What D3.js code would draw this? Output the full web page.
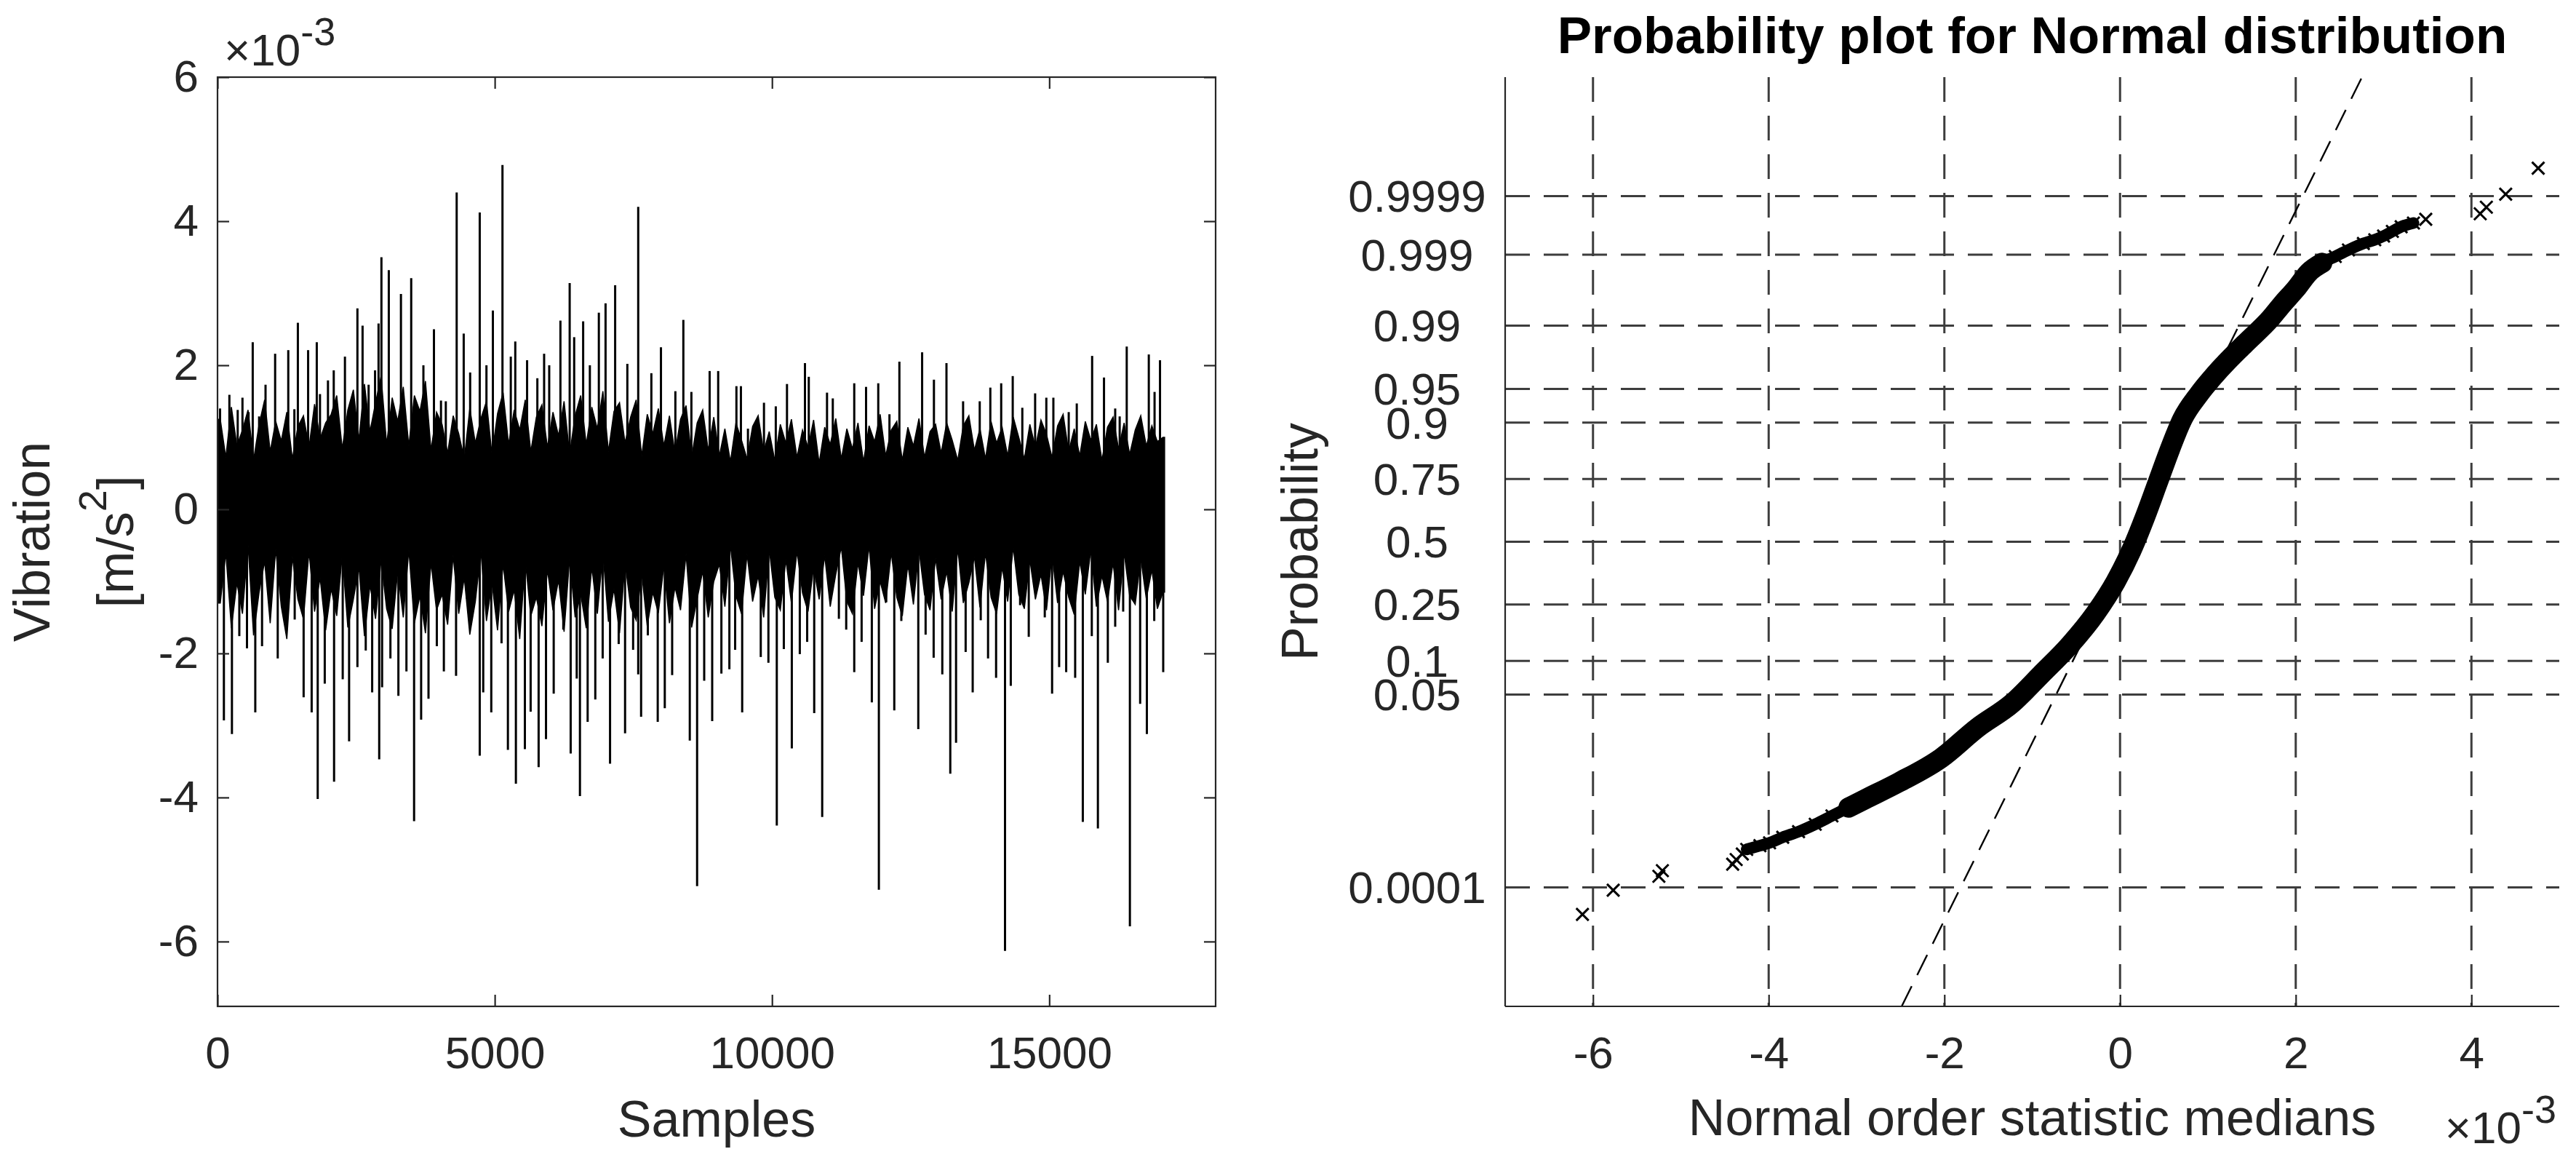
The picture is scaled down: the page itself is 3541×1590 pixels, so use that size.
<!DOCTYPE html>
<html>
<head>
<meta charset="utf-8">
<style>
    body { margin: 0; background: #fff; }
    svg { display: block; }
    text { font-family: "Liberation Sans", Arial, Helvetica, sans-serif; }
</style>
</head>
<body>
<svg id="chart" width="3541" height="1590"></svg>
<script src="https://d3js.org/d3.v7.min.js"></script>
<script>

// ---------- left panel: vibration signal (values in 1e-3 m/s^2) ----------
let nSamples = 17080
let binSize = 100

// ragged max / min of the dense trace in each 100-sample bin
let binHi = [
    1.25, 0.72, 1.42, 0.88, 1.10, 1.38, 0.68, 1.18, 1.52, 0.80, 1.22, 0.95, 1.35, 0.70, 1.15, 1.30, 0.86, 1.46, 0.98, 1.20,
    1.32, 1.58, 0.84, 1.38, 1.66, 0.96, 1.74, 1.08, 1.48, 1.85, 0.90, 1.55, 1.22, 1.70, 0.88, 1.58, 1.36, 1.78, 0.82, 1.35,
    1.18, 0.78, 1.30, 1.05, 0.70, 1.40, 0.92, 1.26, 1.50, 0.76, 1.33, 1.62, 0.90, 1.38, 1.10, 1.52, 0.80, 1.28, 1.45, 0.86,
    1.35, 1.02, 1.50, 0.76, 1.30, 1.58, 0.90, 1.42, 1.12, 1.64, 0.80, 1.36, 1.48, 0.92, 1.28, 1.52, 0.74, 1.32, 1.05, 1.40,
    0.88, 1.30, 0.78, 1.25, 1.44, 0.72, 1.20, 1.38, 0.82, 1.28,
    0.74, 1.12, 0.66, 1.20, 0.96, 0.70, 1.15, 1.30, 0.80, 1.08, 0.68, 1.18, 0.92, 1.25, 0.72, 1.10, 0.86, 1.24, 0.64, 1.14,
    0.90, 1.26, 0.70, 1.12, 0.84, 1.20, 0.66, 1.16, 0.94, 1.32, 0.74, 1.10, 1.22, 0.68, 1.14, 0.88, 1.26, 0.72, 1.08, 1.18,
    0.78, 1.20, 0.96, 0.68, 1.16, 1.30, 0.82, 1.12, 0.70, 1.22, 0.92, 1.14, 0.74, 1.28, 1.00, 0.70, 1.18, 0.86, 1.24, 1.04,
    0.72, 1.16, 1.32, 0.80, 1.12, 0.74, 1.22, 0.96, 1.18, 0.68, 1.14, 1.28, 0.84, 1.20, 0.76, 1.10, 1.30, 0.88, 1.16, 0.94, 1.00
]
let binLo = [
    -1.30, -0.60, -1.65, -1.02, -1.45, -0.48, -1.75, -1.15, -0.72, -1.58, -0.55, -1.35, -1.80, -0.66, -1.25, -1.52, -0.58, -1.42, -0.95, -1.68,
    -1.10, -1.48, -0.62, -1.64, -1.25, -0.80, -1.76, -1.05, -1.52, -0.70, -1.38, -1.66, -0.85, -1.50, -0.56, -1.58, -1.20, -1.72, -0.74, -1.40,
    -1.18, -1.60, -0.64, -1.45, -0.95, -1.74, -1.28, -0.58, -1.55, -1.02, -1.68, -0.76, -1.42, -1.12, -1.80, -0.70, -1.48, -1.22, -1.62, -0.84,
    -1.40, -0.98, -1.70, -0.68, -1.50, -1.18, -1.65, -0.80, -1.45, -0.60, -1.56, -1.10, -1.72, -0.74, -1.36, -1.54, -0.88, -1.62, -1.15, -1.44,
    -0.78, -1.58, -1.08, -1.40, -0.62, -1.64, -1.24, -0.86, -1.50, -1.00,
    -0.76, -1.35, -0.50, -1.20, -1.45, -0.62, -1.28, -0.92, -1.50, -0.55, -1.22, -1.40, -0.70, -1.30, -0.58, -1.16, -1.42, -0.80, -1.25, -0.64,
    -1.35, -0.90, -0.52, -1.28, -1.45, -0.74, -1.20, -0.50, -1.38, -1.00, -1.30, -0.60, -1.22, -1.48, -0.76, -1.32, -0.56, -1.18, -1.40, -0.68,
    -1.25, -0.86, -1.42, -0.54, -1.30, -1.02, -0.66, -1.36, -0.60, -1.22, -1.45, -0.80, -1.28, -0.52, -1.18, -1.38, -0.70, -1.25, -0.90, -1.40,
    -0.62, -1.30, -0.86, -1.22, -1.46, -0.72, -1.18, -0.56, -1.35, -0.92, -1.28, -0.74, -1.40, -0.60, -1.20, -1.32, -0.68, -1.24, -0.84, -1.38, -1.15
]

// tall positive spikes [sample, value]
let upSpikes = [
    [46, 1.40], [214, 1.59], [364, 1.38], [450, 1.55], [560, 1.35], [635, 2.32], [750, 1.29], [866, 1.73],
    [1039, 2.16], [1276, 2.21], [1386, 1.39], [1449, 2.59], [1634, 2.21], [1790, 2.32], [1848, 1.60], [1992, 1.79],
    [2096, 1.93], [2298, 2.12], [2523, 2.79], [2616, 2.55], [2725, 1.73], [2841, 1.93], [2904, 2.58], [2956, 3.50],
    [3089, 3.32], [3308, 2.99], [3493, 3.21], [3713, 2.00], [3903, 2.50], [4030, 1.51], [4117, 1.50], [4313, 4.40],
    [4440, 2.44], [4556, 1.90], [4729, 4.12], [4850, 2.00], [4966, 2.76], [5139, 4.78], [5289, 2.12], [5370, 2.33],
    [5583, 2.07], [5768, 1.82], [5890, 2.16], [5982, 2.00], [6184, 2.62], [6351, 3.14], [6432, 2.39], [6594, 2.61],
    [6715, 2.00], [6877, 2.73], [6998, 2.86], [7171, 3.11], [7391, 2.02], [7587, 4.20], [7824, 1.89], [7997, 2.25],
    [8257, 1.64], [8401, 2.63], [8546, 1.63], [8875, 1.92], [9029, 1.92], [9358, 1.71], [9439, 1.71], [9566, 1.12],
    [9855, 1.48], [10068, 1.43], [10270, 1.74], [10594, 2.03], [10663, 1.84], [10992, 1.62], [11096, 1.54], [11483, 1.75],
    [11696, 1.70], [11916, 1.75], [12118, 1.32], [12297, 2.05], [12707, 2.18], [12920, 1.80], [13146, 2.03], [13446, 1.50],
    [13746, 1.50], [13937, 1.69], [14133, 1.75], [14341, 1.85], [14514, 1.41], [14745, 1.61], [14947, 1.55], [15074, 1.55],
    [15351, 1.35], [15496, 1.47], [15773, 2.13], [15987, 1.83], [16189, 1.40], [16270, 1.29], [16397, 2.26], [16795, 2.15],
    [16899, 1.63], [16997, 2.07]
]

// tall negative spikes [sample, value]
let downSpikes = [
    [115, -2.93], [260, -3.12], [393, -1.76], [531, -1.93], [681, -2.82], [803, -1.90], [1086, -2.07], [1259, -1.48],
    [1392, -1.53], [1553, -2.61], [1698, -2.82], [1807, -4.02], [1934, -2.42], [2102, -3.78], [2258, -2.36], [2373, -3.22],
    [2523, -2.19], [2673, -1.96], [2789, -2.54], [2916, -3.47], [2968, -2.47], [3118, -2.07], [3262, -2.59], [3407, -2.25],
    [3545, -4.33], [3672, -2.92], [3805, -2.63], [3955, -1.90], [4082, -2.25], [4302, -2.31], [4498, -1.24], [4729, -3.42],
    [4792, -2.54], [4937, -2.82], [5122, -1.86], [5237, -3.34], [5381, -3.81], [5543, -3.33], [5647, -2.81], [5791, -3.58],
    [5924, -3.19], [6063, -2.56], [6236, -1.67], [6369, -3.39], [6478, -2.35], [6536, -3.98], [6675, -2.95], [6813, -2.64],
    [6946, -2.07], [7079, -3.53], [7235, -1.87], [7350, -3.11], [7495, -1.95], [7587, -2.29], [7639, -2.88], [7760, -1.75],
    [7939, -2.95], [8066, -2.76], [8199, -2.30], [8517, -3.21], [8649, -5.23], [8777, -2.38], [8921, -2.94],
    [9087, -2.28], [9231, -2.22], [9335, -1.95], [9462, -2.82], [9635, -1.03], [9797, -2.05], [9935, -2.13], [10086, -4.39],
    [10213, -1.94], [10357, -3.32], [10501, -2.01], [10634, -1.84], [10761, -2.83], [10905, -4.27], [11067, -1.19], [11206, -1.52],
    [11338, -1.67], [11483, -2.26], [11616, -1.84], [11800, -2.68], [11927, -5.28], [12060, -1.29], [12205, -2.79], [12332, -1.55],
    [12464, -0.84], [12638, -3.05], [12770, -1.74], [12915, -2.06], [13071, -2.29], [13215, -3.67], [13319, -3.24], [13492, -1.98],
    [13619, -2.54], [13764, -1.54], [13896, -2.07], [14041, -2.34], [14202, -6.13], [14306, -2.45], [14474, -1.33], [14630, -1.77],
    [14757, -1.09], [14919, -1.50], [15051, -2.56], [15178, -2.19], [15305, -2.26], [15467, -2.34], [15605, -4.34], [15767, -1.76],
    [15877, -4.43], [16056, -2.13], [16189, -1.63], [16333, -1.42], [16454, -5.79], [16639, -2.70], [16760, -3.12], [16893, -1.55],
    [17055, -2.26]
]

let leftXTicks = [0, 5000, 10000, 15000]
let leftYTicks = [-6, -4, -2, 0, 2, 4, 6]

// ---------- right panel: normal probability plot (x in 1e-3) ----------
// sorted data value and its plotting position as a standard normal quantile
let qqX = [-6.12, -5.77, -5.25, -5.21, -4.41, -4.37, -4.30, -4.25, -4.10, -3.99, -3.84, -3.66, -3.47, -3.28, -3.09, -2.90,
           -2.52, -2.04, -1.62, -1.23, -0.90, -0.57, -0.28, -0.05, 0.14, 0.29, 0.43, 0.57, 0.71, 0.90, 1.14, 1.42,
           1.71, 1.85, 2.00, 2.15, 2.30, 2.45, 2.60, 2.77, 2.90, 3.00, 3.10, 3.20, 3.34, 3.48, 4.10, 4.17, 4.39, 4.76]
let qqZ = [-4.01, -3.75, -3.60, -3.54, -3.47, -3.42, -3.36, -3.31, -3.27, -3.24, -3.18, -3.12, -3.04, -2.95, -2.86, -2.77,
           -2.59, -2.33, -2.00, -1.74, -1.43, -1.11, -0.77, -0.43, -0.07, 0.28, 0.64, 1.00, 1.32, 1.59, 1.86, 2.13,
           2.40, 2.56, 2.72, 2.90, 3.00, 3.07, 3.14, 3.21, 3.25, 3.29, 3.34, 3.39, 3.43, 3.47, 3.53, 3.60, 3.74, 4.02]

// reference line fitted through the quartiles
let fitMu = 0.134
let fitSigma = 0.524

let probTicks = [0.0001, 0.05, 0.1, 0.25, 0.5, 0.75, 0.9, 0.95, 0.99, 0.999, 0.9999]
let probLabels = ["0.0001", "0.05", "0.1", "0.25", "0.5", "0.75", "0.9", "0.95", "0.99", "0.999", "0.9999"]
let rightXTicks = [-6, -4, -2, 0, 2, 4]

// ------------------------------------------------------------------
let svg = d3.select("#chart")
let ink = "#262626"
let gridInk = "#3d3d3d"
let tickFont = 62
let labelFont = 70
let plainNum = d => String(d)   // hyphen-minus like the original

// inverse standard normal CDF (Acklam)
function norminv(p) {
    let a = [-3.969683028665376e+01, 2.209460984245205e+02, -2.759285104469687e+02, 1.383577518672690e+02, -3.066479806614716e+01, 2.506628277459239e+00]
    let b = [-5.447609879822406e+01, 1.615858368580409e+02, -1.556989798598866e+02, 6.680131188771972e+01, -1.328068155288572e+01]
    let c = [-7.784894002430293e-03, -3.223964580411365e-01, -2.400758277161838e+00, -2.549732539343734e+00, 4.374664141464968e+00, 2.938163982698783e+00]
    let d = [7.784695709041462e-03, 3.224671290700398e-01, 2.445134137142996e+00, 3.754408661907416e+00]
    let plow = 0.02425, q, r
    if (p < plow) {
        q = Math.sqrt(-2 * Math.log(p))
        return (((((c[0]*q+c[1])*q+c[2])*q+c[3])*q+c[4])*q+c[5]) / ((((d[0]*q+d[1])*q+d[2])*q+d[3])*q+1)
    }
    if (p > 1 - plow) {
        q = Math.sqrt(-2 * Math.log(1 - p))
        return -(((((c[0]*q+c[1])*q+c[2])*q+c[3])*q+c[4])*q+c[5]) / ((((d[0]*q+d[1])*q+d[2])*q+d[3])*q+1)
    }
    q = p - 0.5
    r = q * q
    return (((((a[0]*r+a[1])*r+a[2])*r+a[3])*r+a[4])*r+a[5])*q / (((((b[0]*r+b[1])*r+b[2])*r+b[3])*r+b[4])*r+1)
}

function styleAxis(g) {
    g.select(".domain").remove()
    g.selectAll(".tick line").attr("stroke", ink).attr("stroke-width", 2.2)
    g.selectAll(".tick text").attr("fill", ink).attr("font-size", tickFont)
        .style("font-family", '"Liberation Sans", Arial, Helvetica, sans-serif')
}

// ================= LEFT PANEL =================
let L = { x0: 299, x1: 1671, y0: 106, y1: 1383 }
let xL = d3.scaleLinear().domain([0, 18000]).range([L.x0, L.x1])
let yL = d3.scaleLinear().domain([-6.9, 6]).range([L.y1, L.y0])

let left = svg.append("g")

// dense part of the trace: filled envelope of the bin max / min
let env = binHi.map((v, i) => [Math.min(i * binSize + binSize / 2, nSamples), v, binLo[i]])
env.unshift([0, binHi[0], binLo[0]])
env.push([nSamples, binHi[binHi.length - 1], binLo[binLo.length - 1]])
left.append("path")
    .datum(env)
    .attr("d", d3.area().x(d => xL(d[0])).y0(d => yL(d[2])).y1(d => yL(d[1])))
    .attr("fill", "#000")
    .attr("stroke", "#000")
    .attr("stroke-width", 1.5)

// spikes
left.append("g").selectAll("line")
    .data(upSpikes.concat(downSpikes))
    .enter()
    .append("line")
    .attr("x1", d => xL(d[0]))
    .attr("x2", d => xL(d[0]))
    .attr("y1", yL(0.3))
    .attr("y2", d => yL(d[1]))
    .attr("stroke", "#000")
    .attr("stroke-width", 3)

// box
left.append("rect")
    .attr("x", L.x0).attr("y", L.y0)
    .attr("width", L.x1 - L.x0).attr("height", L.y1 - L.y0)
    .attr("fill", "none").attr("stroke", ink).attr("stroke-width", 2.2)

let gxb = left.append("g").attr("transform", "translate(0," + L.y1 + ")")
    .call(d3.axisBottom(xL).tickValues(leftXTicks).tickFormat(plainNum).tickSizeInner(-16).tickSizeOuter(0).tickPadding(41))
styleAxis(gxb)
let gxt = left.append("g").attr("transform", "translate(0," + L.y0 + ")")
    .call(d3.axisTop(xL).tickValues(leftXTicks).tickFormat("").tickSizeInner(-16).tickSizeOuter(0))
styleAxis(gxt)
let gyl = left.append("g").attr("transform", "translate(" + L.x0 + ",0)")
    .call(d3.axisLeft(yL).tickValues(leftYTicks).tickFormat(plainNum).tickSizeInner(-16).tickSizeOuter(0).tickPadding(26))
styleAxis(gyl)
let gyr = left.append("g").attr("transform", "translate(" + L.x1 + ",0)")
    .call(d3.axisRight(yL).tickValues(leftYTicks).tickFormat("").tickSizeInner(-16).tickSizeOuter(0))
styleAxis(gyr)

// exponent label
let expL = left.append("text").attr("x", 308).attr("y", 90).attr("fill", ink).attr("font-size", tickFont)
expL.append("tspan").text("\u00d710")
expL.append("tspan").attr("dy", -28).attr("font-size", 54).text("-3")

// axis labels
left.append("text")
    .attr("x", (L.x0 + L.x1) / 2).attr("y", 1562)
    .attr("text-anchor", "middle").attr("fill", ink).attr("font-size", labelFont)
    .text("Samples")

left.append("text")
    .attr("transform", "translate(68," + (L.y0 + L.y1) / 2 + ") rotate(-90)")
    .attr("text-anchor", "middle").attr("fill", ink).attr("font-size", labelFont)
    .text("Vibration")
let unit = left.append("text")
    .attr("transform", "translate(183," + (L.y0 + L.y1) / 2 + ") rotate(-90)")
    .attr("text-anchor", "middle").attr("fill", ink).attr("font-size", labelFont)
unit.append("tspan").text("[m/s")
unit.append("tspan").attr("dy", -37).attr("font-size", 54).text("2")
unit.append("tspan").attr("dy", 37).text("]")

// ================= RIGHT PANEL =================
let R = { x0: 2069, x1: 3518, y0: 106, y1: 1383 }
let xR = d3.scaleLinear().domain([-7, 5]).range([R.x0, R.x1])
let yR = d3.scaleLinear().domain([-5, 5]).range([R.y1, R.y0])

let right = svg.append("g")

svg.append("defs").append("clipPath").attr("id", "clipR")
    .append("rect").attr("x", R.x0).attr("y", R.y0).attr("width", R.x1 - R.x0).attr("height", R.y1 - R.y0)

// grid
right.append("g").selectAll("line")
    .data(rightXTicks)
    .enter()
    .append("line")
    .attr("x1", d => xR(d)).attr("x2", d => xR(d))
    .attr("y1", R.y0).attr("y2", R.y1)
    .attr("stroke", gridInk).attr("stroke-width", 3).attr("stroke-dasharray", "34,19")

right.append("g").selectAll("line")
    .data(probTicks)
    .enter()
    .append("line")
    .attr("x1", R.x0).attr("x2", R.x1)
    .attr("y1", d => yR(norminv(d))).attr("y2", d => yR(norminv(d)))
    .attr("stroke", gridInk).attr("stroke-width", 3).attr("stroke-dasharray", "34,19")

// reference line
right.append("line")
    .attr("clip-path", "url(#clipR)")
    .attr("x1", xR(fitMu - 5 * fitSigma)).attr("y1", yR(-5))
    .attr("x2", xR(fitMu + 5 * fitSigma)).attr("y2", yR(5))
    .attr("stroke", "#000").attr("stroke-width", 2.4).attr("stroke-dasharray", "31,17")

// data
let qq = qqX.map((x, i) => [x, qqZ[i]])
let bandLine = d3.line().curve(d3.curveMonotoneX).x(d => xR(d[0])).y(d => yR(d[1]))

right.append("path")
    .datum(qq.filter(d => d[1] >= -3.32 && d[1] <= 3.44))
    .attr("d", bandLine)
    .attr("fill", "none").attr("stroke", "#000").attr("stroke-width", 16).attr("stroke-linecap", "round")

right.append("path")
    .datum(qq.filter(d => d[1] >= -2.9 && d[1] <= 3.0))
    .attr("d", bandLine)
    .attr("fill", "none").attr("stroke", "#000").attr("stroke-width", 28).attr("stroke-linecap", "round")

right.append("g").selectAll("path")
    .data(qq)
    .enter()
    .append("path")
    .attr("transform", d => "translate(" + xR(d[0]) + "," + yR(d[1]) + ")")
    .attr("d", "M-8.5,-8.5L8.5,8.5M-8.5,8.5L8.5,-8.5")
    .attr("stroke", "#000").attr("stroke-width", 3).attr("fill", "none")

// axes (left and bottom only)
right.append("line")
    .attr("x1", R.x0).attr("x2", R.x0).attr("y1", R.y0).attr("y2", R.y1)
    .attr("stroke", ink).attr("stroke-width", 2.2)
right.append("line")
    .attr("x1", R.x0).attr("x2", R.x1).attr("y1", R.y1).attr("y2", R.y1)
    .attr("stroke", ink).attr("stroke-width", 2.2)

let gxr = right.append("g").attr("transform", "translate(0," + R.y1 + ")")
    .call(d3.axisBottom(xR).tickValues(rightXTicks).tickFormat(plainNum).tickSizeInner(-16).tickSizeOuter(0).tickPadding(41))
styleAxis(gxr)

right.append("g").selectAll("text")
    .data(probTicks)
    .enter()
    .append("text")
    .attr("x", 1948)
    .attr("y", d => yR(norminv(d)))
    .attr("dy", "0.35em")
    .attr("text-anchor", "middle").attr("fill", ink).attr("font-size", tickFont)
    .text((d, i) => probLabels[i])

let expR = right.append("text").attr("x", R.x1 - 4).attr("y", 1571)
    .attr("text-anchor", "end").attr("fill", ink).attr("font-size", tickFont)
expR.append("tspan").text("\u00d710")
expR.append("tspan").attr("dy", -28).attr("font-size", 54).text("-3")

right.append("text")
    .attr("x", (R.x0 + R.x1) / 2).attr("y", 1560)
    .attr("text-anchor", "middle").attr("fill", ink).attr("font-size", labelFont)
    .text("Normal order statistic medians")

right.append("text")
    .attr("transform", "translate(1811," + (R.y0 + R.y1) / 2 + ") rotate(-90)")
    .attr("text-anchor", "middle").attr("fill", ink).attr("font-size", labelFont)
    .text("Probability")

right.append("text")
    .attr("x", (R.x0 + R.x1) / 2).attr("y", 73)
    .attr("text-anchor", "middle").attr("fill", "#000")
    .attr("font-size", 71).attr("font-weight", "bold")
    .text("Probability plot for Normal distribution")

</script>
</body>
</html>
